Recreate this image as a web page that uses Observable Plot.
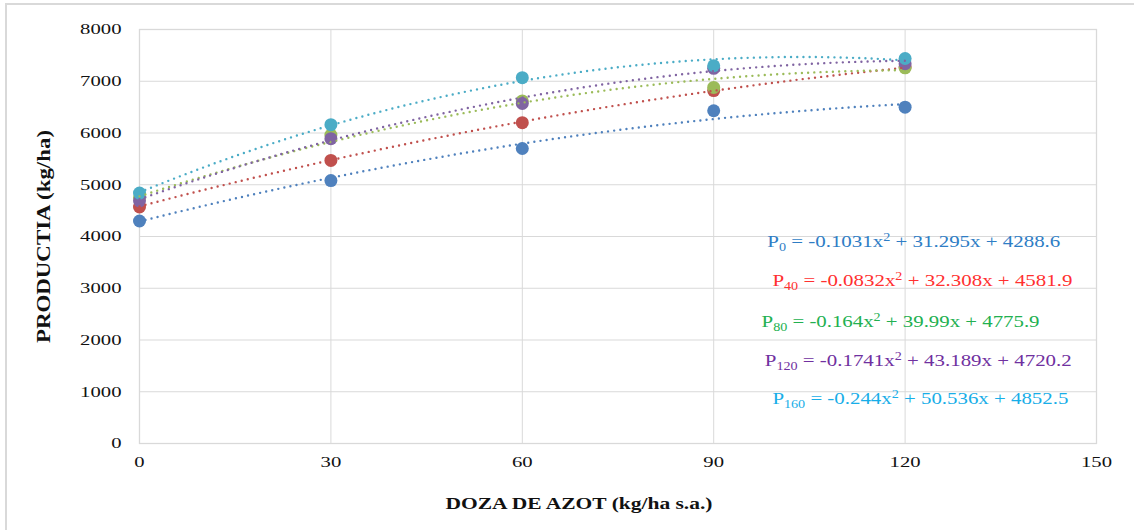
<!DOCTYPE html>
<html><head><meta charset="utf-8">
<script src="https://cdn.jsdelivr.net/npm/d3@7"></script>
<script src="https://cdn.jsdelivr.net/npm/@observablehq/plot@0.6"></script>
<style>
body{margin:0;background:#fff;overflow:hidden;}
#frame{position:absolute;left:5px;top:3px;width:1140px;height:600px;border:2px solid #d9d9d9;box-sizing:border-box;}
#chart{position:absolute;left:0;top:0;}
</style></head><body>
<div id="frame"></div><div id="chart"></div>
<script>
// ---- data ----
const doses = [0, 30, 60, 90, 120];
const subscripts = ["0", "40", "80", "120", "160"];
const prodP0   = [4300, 5080, 5700, 6430, 6500];
const prodP40  = [4570, 5470, 6200, 6820, 7280];
const prodP80  = [4750, 5960, 6620, 6880, 7260];
const prodP120 = [4690, 5890, 6570, 7250, 7340];
const prodP160 = [4840, 6160, 7070, 7300, 7440];
const coefA = ["-0.1031", "-0.0832", "-0.164", "-0.1741", "-0.244"];
const coefB = ["31.295", "32.308", "39.99", "43.189", "50.536"];
const coefC = ["4288.6", "4581.9", "4775.9", "4720.2", "4852.5"];
const xTicks = [0, 30, 60, 90, 120, 150];
const yTicks = [0, 1000, 2000, 3000, 4000, 5000, 6000, 7000, 8000];
const xTitle = "DOZA DE AZOT (kg/ha s.a.)";
const yTitle = "PRODUCTIA (kg/ha)";

// ---- styles / layout ----
const markerColors = ["#4f81bd", "#c0504d", "#9bbb59", "#8064a2", "#4bacc6"];
const eqColors = ["#2e7dc5", "#ff3030", "#22b050", "#7030a0", "#18aee8"];
const eqX = [98.4, 99.2, 97.5, 98.0, 99.2];
const eqY = [3903, 3150, 2357, 1604, 870];
const eqWidths = [293, 300, 278, 307, 296];

const series = [prodP0, prodP40, prodP80, prodP120, prodP160];
const points = [];
series.forEach((vals, s) => vals.forEach((v, i) => points.push({s, dose: doses[i], value: v})));

const trend = [];
series.forEach((_, s) => {
  const a = +coefA[s], b = +coefB[s], c = +coefC[s];
  for (let x = 0; x <= 120; x += 1) trend.push({s, x, y: a * x * x + b * x + c});
});

const equations = subscripts.map((sub, s) => ({
  s, sub, a: coefA[s], b: coefB[s], c: coefC[s], x: eqX[s], y: eqY[s],
  text: `P${sub} = ${coefA[s]}x2 + ${coefB[s]}x + ${coefC[s]}`
}));

const plot = Plot.plot({
  width: 1134, height: 530,
  marginLeft: 139, marginRight: 38, marginTop: 29, marginBottom: 87,
  style: {fontFamily: "'Liberation Serif', 'Times New Roman', serif", fontSize: "15px", color: "#111", background: "transparent"},
  color: {type: "identity"},
  x: {domain: [0, 150], ticks: xTicks, tickSize: 0, tickPadding: 13, label: null},
  y: {domain: [0, 8000], ticks: yTicks, tickSize: 0, tickPadding: 18, label: null, tickFormat: d => String(d)},
  marks: [
    Plot.gridX(xTicks, {stroke: "#d9d9d9", strokeOpacity: 1}),
    Plot.gridY(yTicks, {stroke: "#d9d9d9", strokeOpacity: 1}),
    Plot.frame({stroke: "#d9d9d9", strokeWidth: 1.3}),
    Plot.dot(points, {x: "dose", y: "value", r: 6.5, fill: d => markerColors[d.s], stroke: null}),
    Plot.line(trend, {x: "x", y: "y", z: "s", stroke: d => markerColors[d.s], strokeWidth: 2.4, strokeDasharray: "0,6.2", strokeLinecap: "round", curve: "linear"}),
    Plot.text(equations, {x: "x", y: "y", text: "text", textAnchor: "start", fill: d => eqColors[d.s], fontSize: 17}),
    Plot.text([xTitle], {frameAnchor: "bottom", lineAnchor: "middle", textAnchor: "middle", dy: 60, dx: -39, fontWeight: "bold", fontSize: 17.5, fill: "#111"}),
    Plot.text([yTitle], {frameAnchor: "left", lineAnchor: "middle", textAnchor: "middle", dx: -96, rotate: -90, fontWeight: "bold", fontSize: 19, fill: "#111"})
  ]
});
document.getElementById("chart").appendChild(plot);

const svg = d3.select(plot);
const textGroups = svg.selectAll('g[aria-label="text"]').nodes();
const [eqGroup, xTitleGroup, yTitleGroup] = textGroups;

// rebuild equations with subscript / superscript
d3.select(eqGroup).selectAll("text").each(function(_, i) {
  const e = equations[i];
  const t = d3.select(this);
  t.text(null);
  t.append("tspan").text("P");
  t.append("tspan").attr("font-size", 11.5).attr("dy", 4).text(e.sub);
  t.append("tspan").attr("dy", -4).text(` = ${e.a}x`);
  t.append("tspan").attr("font-size", 11.5).attr("dy", -6).text("2");
  t.append("tspan").attr("dy", 6).text(` + ${e.b}x + ${e.c}`);
  this.setAttribute("textLength", eqWidths[i]);
  this.setAttribute("lengthAdjust", "spacingAndGlyphs");
});

function stretch(sel, k) {
  sel.each(function() {
    const w = this.getComputedTextLength();
    this.setAttribute("textLength", (w * k).toFixed(1));
    this.setAttribute("lengthAdjust", "spacingAndGlyphs");
  });
}
stretch(svg.selectAll('g[aria-label="y-axis tick label"] text'), 1.38);
stretch(svg.selectAll('g[aria-label="x-axis tick label"] text'), 1.38);
d3.select(xTitleGroup).selectAll("text").attr("textLength", 267).attr("lengthAdjust", "spacingAndGlyphs");
d3.select(yTitleGroup).selectAll("text").attr("textLength", 213).attr("lengthAdjust", "spacingAndGlyphs");
</script>
</body></html>
